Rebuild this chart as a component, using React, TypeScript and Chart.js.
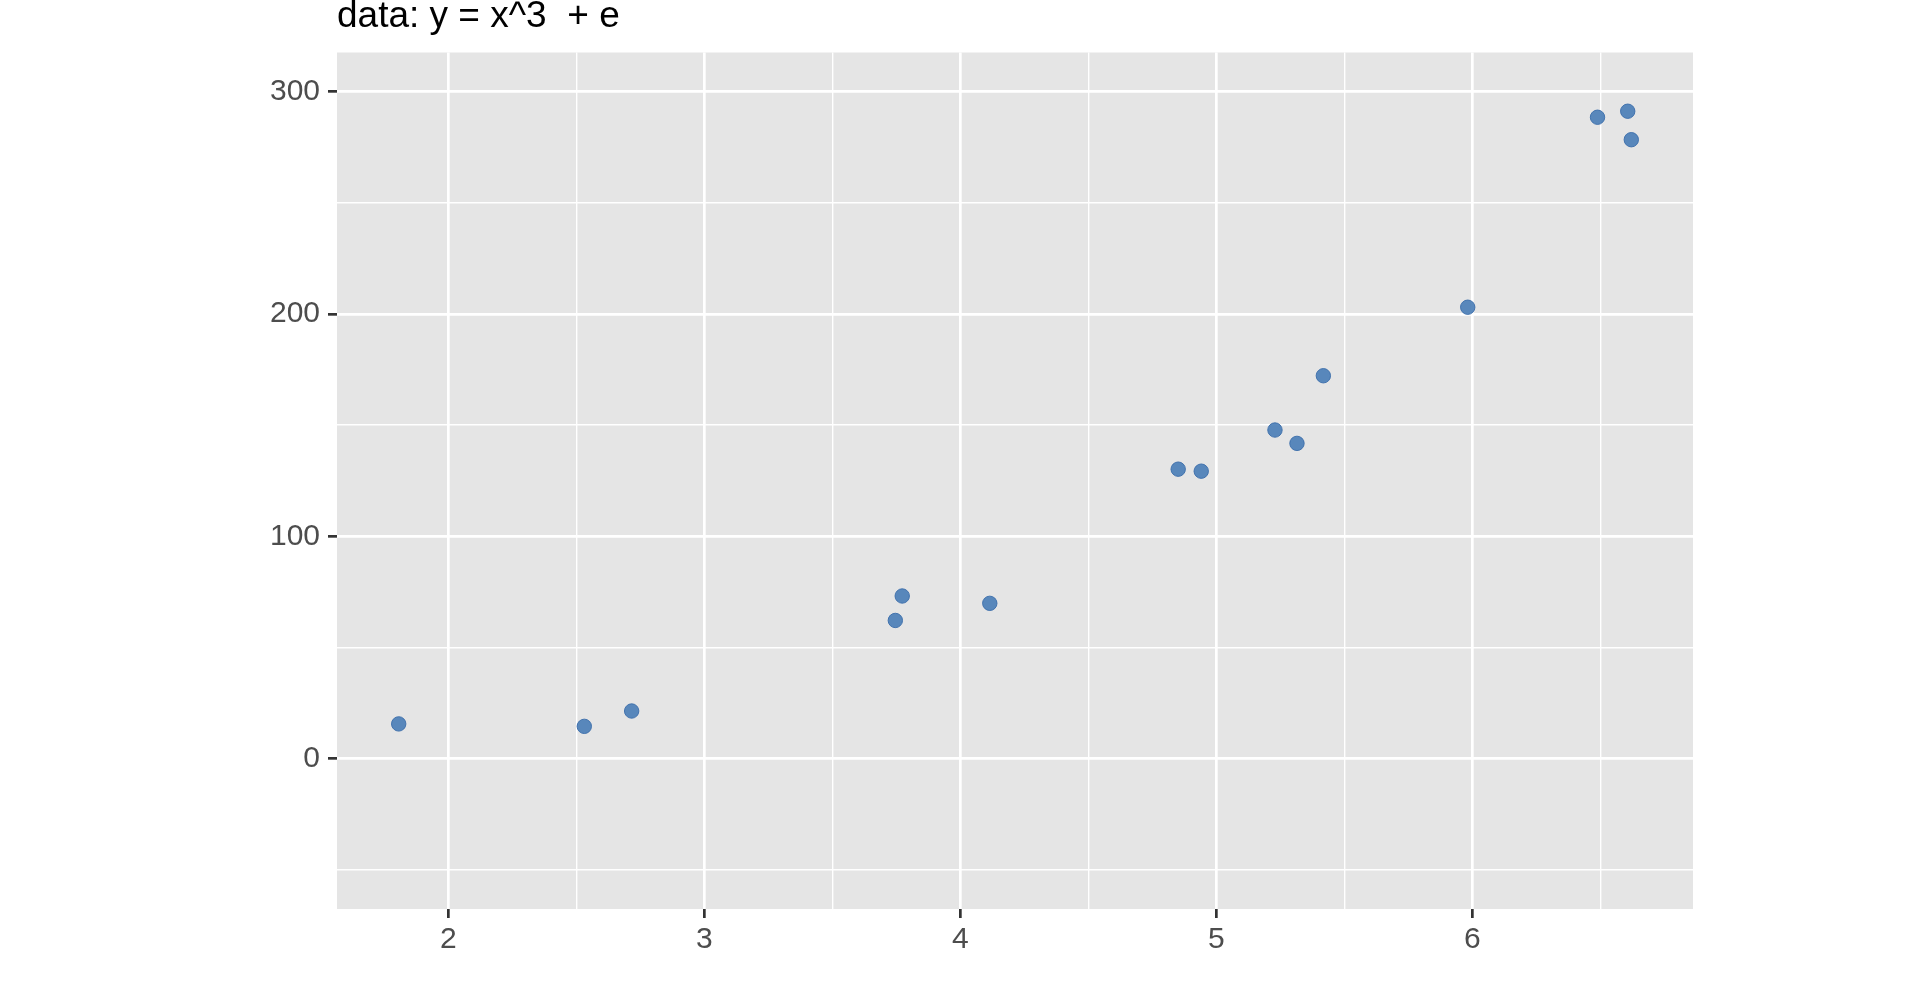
import React, { useEffect, useRef } from "react";
import { Chart, registerables } from "chart.js";

Chart.register(...registerables);

const titleText = "data: y = x^3  + e";
const xValues = [1.806, 2.531, 2.716, 3.746, 3.773, 4.115, 4.851, 4.941, 5.229, 5.315, 5.418, 5.982, 6.489, 6.607, 6.621];
const yValues = [15.7, 14.6, 21.5, 62.2, 73.2, 69.9, 130.2, 129.3, 147.8, 141.8, 172.2, 203.0, 288.4, 291.1, 278.3];
const xMajorTicks = [2, 3, 4, 5, 6];
const xMinorTicks = [2.5, 3.5, 4.5, 5.5, 6.5];
const yMajorTicks = [0, 100, 200, 300];
const yMinorTicks = [-50, 50, 150, 250];
const xLimits = [1.565, 6.862];
const yLimits = [-67.5, 317.5];

const W = 1920;
const H = 998;
const FONT = "'Liberation Sans', Arial, Helvetica, sans-serif";

export default function App() {
  const ref = useRef<HTMLCanvasElement | null>(null);

  useEffect(() => {
    if (!ref.current) return;
    const isMajorX = (v: number) => xMajorTicks.includes(v);
    const isMajorY = (v: number) => yMajorTicks.includes(v);

    const panelBg = {
      id: "panelBg",
      beforeDraw(chart: any) {
        const { ctx, chartArea: a } = chart;
        ctx.save();
        ctx.fillStyle = "#ffffff";
        ctx.fillRect(0, 0, chart.width, chart.height);
        ctx.fillStyle = "#e5e5e5";
        ctx.fillRect(a.left, a.top, a.right - a.left, a.bottom - a.top);
        ctx.restore();
      },
      afterDraw(chart: any) {
        const { ctx, chartArea: a } = chart;
        ctx.save();
        ctx.fillStyle = "#000000";
        ctx.font = `37px ${FONT}`;
        ctx.textAlign = "left";
        ctx.textBaseline = "alphabetic";
        ctx.fillText(titleText, a.left, 27);
        ctx.restore();
      },
    };

    const chart = new Chart(ref.current, {
      type: "scatter",
      data: {
        datasets: [
          {
            data: xValues.map((x, i) => ({ x, y: yValues[i] })),
            backgroundColor: "rgba(72,124,182,0.9)",
            borderColor: "rgba(62,112,172,0.95)",
            borderWidth: 1,
            pointRadius: 7.2,
            pointHoverRadius: 7.2,
          },
        ],
      },
      options: {
        animation: false,
        responsive: false,
        events: [],
        layout: { padding: { left: 0, top: 52.5, right: 227, bottom: 0 } },
        plugins: { legend: { display: false }, tooltip: { enabled: false }, title: { display: false } },
        scales: {
          x: {
            type: "linear",
            min: xLimits[0],
            max: xLimits[1],
            afterBuildTicks(scale: any) {
              scale.ticks = [...xMajorTicks, ...xMinorTicks].sort((a, b) => a - b).map((v) => ({ value: v }));
            },
            afterFit(scale: any) {
              scale.height = 89;
            },
            border: { display: false },
            grid: {
              color: "#ffffff",
              lineWidth: (c: any) => (isMajorX(c.tick?.value) ? 2.7 : 1.4),
              tickColor: (c: any) => (isMajorX(c.tick?.value) ? "#333333" : "rgba(0,0,0,0)"),
              tickWidth: 2.7,
              tickLength: 9,
              drawTicks: true,
            },
            ticks: {
              autoSkip: false,
              maxRotation: 0,
              padding: 4,
              color: "#4d4d4d",
              font: { family: FONT, size: 30 },
              callback: (v: any) => (isMajorX(Number(v)) ? String(v) : ""),
            },
          },
          y: {
            type: "linear",
            min: yLimits[0],
            max: yLimits[1],
            afterBuildTicks(scale: any) {
              scale.ticks = [...yMajorTicks, ...yMinorTicks].sort((a, b) => a - b).map((v) => ({ value: v }));
            },
            afterFit(scale: any) {
              scale.width = 337;
            },
            border: { display: false },
            grid: {
              color: "#ffffff",
              lineWidth: (c: any) => (isMajorY(c.tick?.value) ? 2.7 : 1.4),
              tickColor: (c: any) => (isMajorY(c.tick?.value) ? "#333333" : "rgba(0,0,0,0)"),
              tickWidth: 2.7,
              tickLength: 9,
              drawTicks: true,
            },
            ticks: {
              autoSkip: false,
              padding: 8,
              color: "#4d4d4d",
              font: { family: FONT, size: 30 },
              callback: (v: any) => (isMajorY(Number(v)) ? String(v) : ""),
            },
          },
        },
      },
      plugins: [panelBg],
    } as any);
    return () => chart.destroy();
  }, []);

  return (
    <div style={{ position: "fixed", left: 0, top: 0, width: W, height: H, background: "#fff" }}>
      <canvas ref={ref} width={W} height={H} style={{ display: "block", width: W, height: H }} />
    </div>
  );
}
